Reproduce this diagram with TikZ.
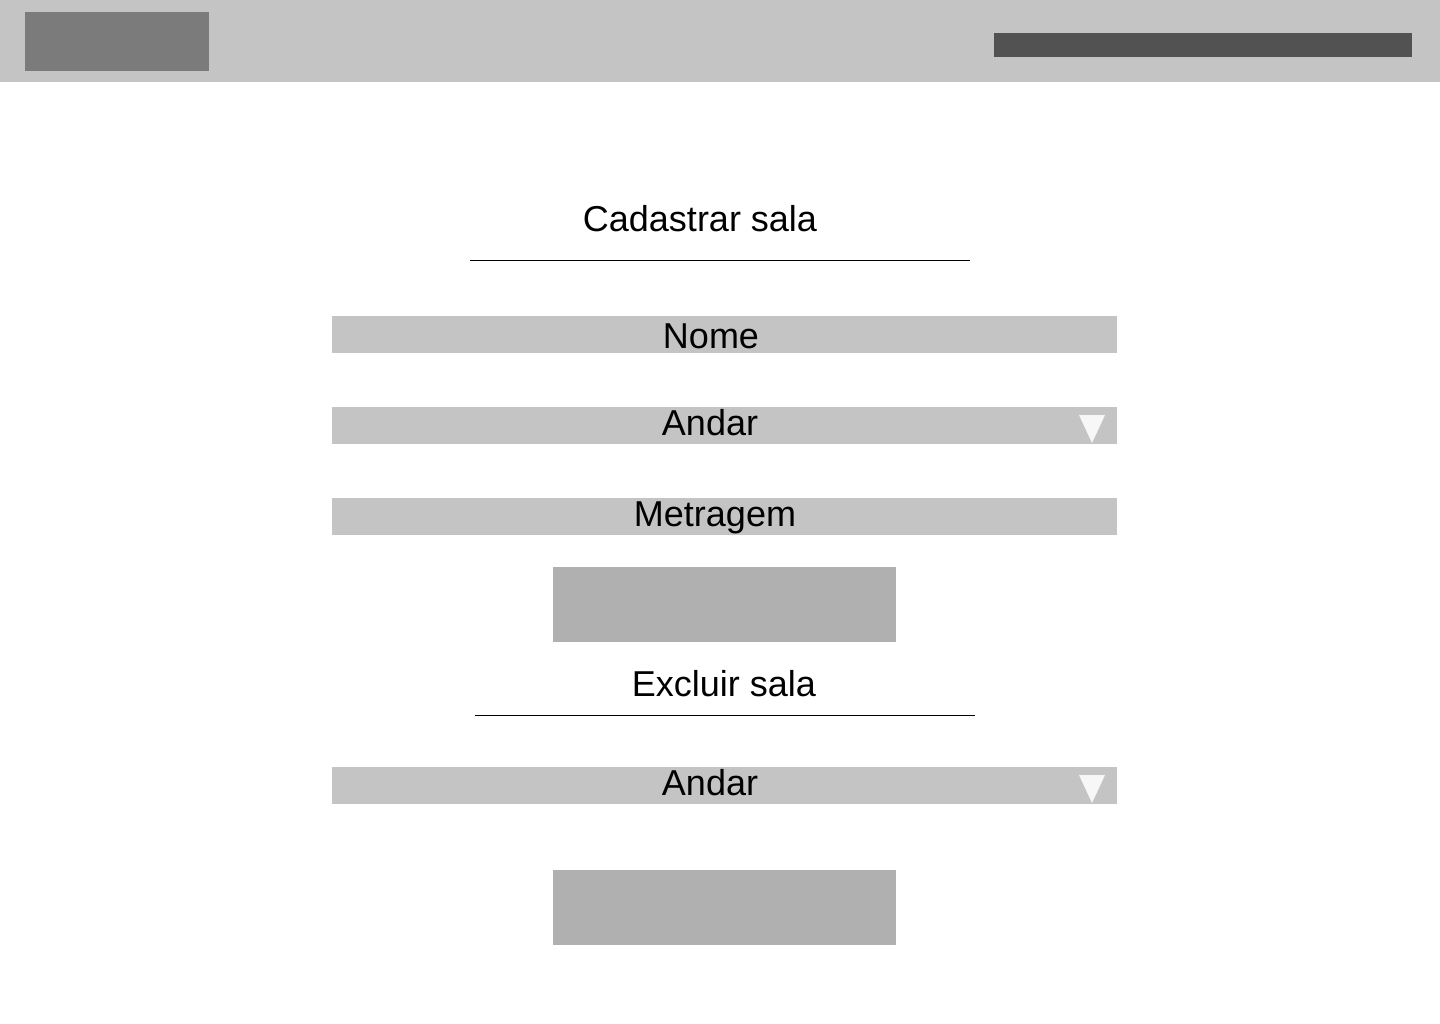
\documentclass[tikz,border=0pt]{standalone}
\usepackage{fontspec}
\setmainfont{Liberation Sans}
\definecolor{hdr}{HTML}{C4C4C4}
\definecolor{logo}{HTML}{7B7B7B}
\definecolor{bar}{HTML}{525252}
\definecolor{btn}{HTML}{B0B0B0}
\definecolor{tri}{HTML}{F7F7F7}
\tikzset{
  field/.style={fill=hdr, draw=none},
  button/.style={fill=btn, draw=none},
  lbl/.style={anchor=base, inner sep=0pt, font=\fontsize{36}{40}\selectfont},
  rule/.style={draw=black, line width=1pt},
  arrowtri/.style={fill=tri, draw=none}
}
\begin{document}
\begin{tikzpicture}[x=1pt,y=-1pt]
\useasboundingbox (0,0) rectangle (1440,1024);
\fill[white] (0,0) rectangle (1440,1024);
% header
\fill[hdr] (0,0) rectangle (1440,82);
\fill[logo] (25,12) rectangle (209,71);
\fill[bar] (994,33) rectangle (1412,57);
% Cadastrar sala
\node[lbl] (t1) at (700,232) {Cadastrar sala};
\coordinate (l1a) at (470,261); \coordinate (l1b) at (970,261);
\draw[rule] (l1a) -- (l1b);
% fields
\fill[field] (332,316) rectangle (1117,353);
\node[lbl] (nome) at (711,348) {Nome};
\fill[field] (332,407) rectangle (1117,444);
\node[lbl] (andar1) at (710,435) {Andar};
\fill[arrowtri] (1079,415) -- (1105,415) -- (1092,443) -- cycle;
\fill[field] (332,498) rectangle (1117,535);
\node[lbl] (metr) at (715,526) {Metragem};
\fill[button] (553,567) rectangle (896,642);
% Excluir sala
\node[lbl] (t2) at (724,696) {Excluir sala};
\coordinate (l2a) at (475,715); \coordinate (l2b) at (975,715);
\draw[rule] (l2a) -- (l2b);
\fill[field] (332,767) rectangle (1117,804);
\node[lbl] (andar2) at (710,795) {Andar};
\fill[arrowtri] (1079,775) -- (1105,775) -- (1092,803) -- cycle;
\fill[button] (553,870) rectangle (896,945);
\end{tikzpicture}
\end{document}
